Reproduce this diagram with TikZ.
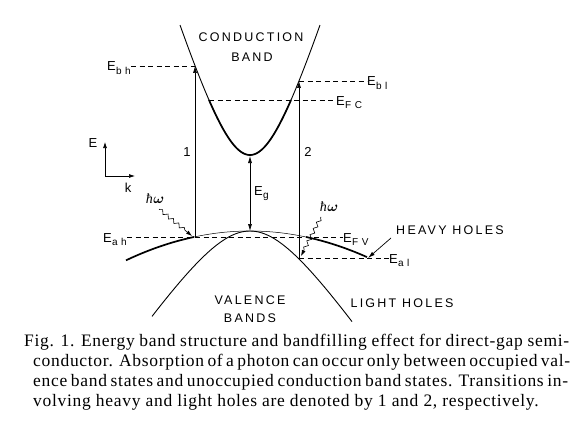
\documentclass[tikz,border=0pt]{standalone}
\usepackage{fontspec}
\usepackage{bm}
\usetikzlibrary{arrows.meta,decorations.pathmorphing}
\newfontfamily\labfont[LetterSpace=18]{Liberation Sans}
\newfontfamily\subfont[LetterSpace=35]{Liberation Sans}
\newfontfamily\capfont[LetterSpace=4]{Liberation Serif}
\newfontfamily\hfont{Liberation Serif}
\newcommand\Elab[1]{E\kern0.3pt\raisebox{-3.5pt}{\fontsize{10}{10}\subfont #1}}
\newcommand\hw{{\hfont\itshape ħ}\kern0.5pt$\bm{\omega}$}
\begin{document}
\begin{tikzpicture}[x=1pt,y=-1pt,
  lab/.style={font=\fontsize{12.5}{14}\labfont, inner sep=0pt},
  elab/.style={font=\fontsize{13}{14}\labfont, inner sep=0pt},
  band/.style={line width=0.9pt},
  thinband/.style={line width=0.5pt},
  thickband/.style={line width=1.7pt},
  dsh/.style={line width=0.6pt, dash pattern=on 5pt off 3.5pt},
  vert/.style={line width=0.7pt,-{Latex[length=7pt,width=4pt]}},
  capt/.style={font=\fontsize{17.5}{20}\capfont, inner sep=0pt, anchor=base west},
  wave/.style={line width=0.6pt, -{Latex[length=6pt,width=4pt]}, decorate,
    decoration={snake, amplitude=1.8pt, segment length=7pt, pre length=1pt, post length=6pt}}
]
\useasboundingbox (0,0) rectangle (585,425);

% conduction band
\draw[band] plot[domain=-7:7,samples=90,variable=\t] ({250+10*\t},{155-5*(-26.7+sqrt(712.9+42.12*\t*\t))});
\draw[thickband] plot[domain=-4.1:4.1,samples=60,variable=\t] ({250+10*\t},{155-5*(-26.7+sqrt(712.9+42.12*\t*\t))});

% light hole band
\draw[band] plot[domain=-9.8:10.2,samples=90,variable=\t] ({250+10*\t},{231+5*(-15.69+sqrt(246.2+8.62*\t*\t))});

% heavy hole band
\draw[thinband] plot[domain=194:306,samples=40] (\x,{231+0.0019*(\x-250)*(\x-250)});
\draw[thickband] plot[domain=126:194,samples=30] (\x,{231+0.0019*(\x-250)*(\x-250)});
\draw[thickband] plot[domain=306:367,samples=30] (\x,{231+0.0019*(\x-250)*(\x-250)});

% key points
\coordinate (bh) at (195,66);
\coordinate (ah) at (195,237);
\coordinate (bl) at (299,81);
\coordinate (al) at (299,258);
\coordinate (cmin) at (250,156);
\coordinate (vmax) at (250,231);
\coordinate (fcl) at (209,100);
\coordinate (hh) at (368,258);

% energy labels
\node[elab, anchor=base east] (Ebh) at (131,71) {\Elab{bh}};
\node[elab, anchor=base west] (Ebl) at (367,86) {\Elab{bl}};
\node[elab, anchor=base west] (EFC) at (336,105) {\Elab{FC}};
\node[elab, anchor=base east] (Eah) at (127,242) {\Elab{ah}};
\node[elab, anchor=base west] (EFV) at (343,242) {\Elab{FV}};
\node[elab, anchor=base west] (Eal) at (389,263) {\Elab{al}};
\node[elab, anchor=base west] (Eg) at (254,195) {\Elab{g}};

% dashed levels
\draw[dsh] (Ebh.east |- bh) -- (bh);
\draw[dsh] (bl) -- (Ebl.west |- bl);
\draw[dsh] (fcl) -- (EFC.west |- fcl);
\draw[dsh] (Eah.east |- ah) -- (EFV.west |- ah);
\draw[dsh] (al) -- (Eal.west |- al);

% transitions
\draw[vert] (ah) -- (bh);
\draw[vert] (al) -- (bl);
\draw[line width=0.7pt,{Latex[length=7pt,width=4pt]}-{Latex[length=7pt,width=4pt]}] (cmin) -- (vmax);
\node[elab] (n1) at (187,152) {1};
\node[elab] (n2) at (308,152) {2};

% axes
\coordinate (o) at (105,176);
\coordinate (ey) at (105,142);
\coordinate (kx) at (135,176);
\draw[line width=0.7pt,-{Latex[length=6pt,width=4pt]}] (o) -- (ey);
\draw[line width=0.7pt,-{Latex[length=6pt,width=4pt]}] (o) -- (kx);
\node[elab] (Eax) at (93,143) {E};
\node[elab] (kax) at (128,188) {k};

% photons
\node[inner sep=0pt, font=\fontsize{14}{14}\selectfont] (hw1) at (155,199) {\hw};
\node[inner sep=0pt, font=\fontsize{14}{14}\selectfont] (hw2) at (329,207) {\hw};
\draw[wave] (159,209) -- (192,236);
\draw[wave] (321,217) -- (301,256);

% band names
\node[lab] (cb1) at (251,37) {CONDUCTION};
\node[lab] (cb2) at (252,57) {BAND};
\node[lab] (vb1) at (250,300) {VALENCE};
\node[lab] (vb2) at (250,318) {BANDS};
\node[lab] (hhl) at (450,230) {HEAVY HOLES};
\node[lab] (lhl) at (402,303) {LIGHT HOLES};
\draw[line width=0.7pt,-{Latex[length=7pt,width=4pt]}] (391,238) -- (hh);

% caption
\node[capt] (c1) at (24,346) {\makebox[545pt][s]{Fig. 1. Energy band structure and bandfilling effect for direct-gap semi-}};
\node[capt] (c2) at (33,366) {\makebox[535pt][s]{conductor. Absorption of a photon can occur only between occupied val-}};
\node[capt] (c3) at (33,386) {\makebox[535pt][s]{ence band states and unoccupied conduction band states. Transitions in-}};
\node[capt] (c4) at (33,406) {volving heavy and light holes are denoted by 1 and 2, respectively.};
\end{tikzpicture}
\end{document}
